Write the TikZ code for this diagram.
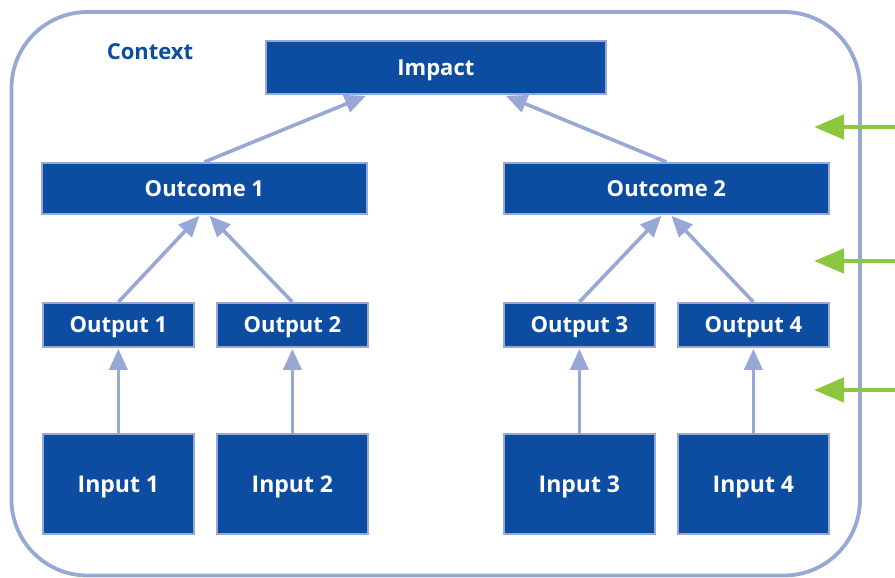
\documentclass[tikz,border=0pt]{standalone}
\usepackage{fontspec}
\setmainfont{Open Sans}
\usetikzlibrary{arrows.meta}
\definecolor{boxblue}{HTML}{0D4DA1}
\definecolor{lineblue}{HTML}{97A8D6}
\definecolor{leaf}{HTML}{8DC63F}
\begin{document}
\begin{tikzpicture}[x=1pt,y=-1pt,
  blk/.style={draw=lineblue,line width=1.8pt,fill=boxblue,text=white,font=\bfseries\fontsize{22}{26}\selectfont,inner sep=0pt,text depth=0pt,anchor=north west},
  inblk/.style={blk,minimum width=151pt,minimum height=100pt,font=\bfseries\fontsize{23}{27}\selectfont},
  conn/.style={draw=lineblue,line width=3.6pt,-{Triangle[length=21pt,width=18pt]}},
  garrow/.style={draw=leaf,line width=4.8pt,-{Triangle[length=30pt,width=24pt]}}]
\useasboundingbox (0,0) rectangle (895,578);
\draw[lineblue,line width=3.8pt,rounded corners=76pt] (11.5,12) rectangle (860,575.5);
\node[text=boxblue,font=\bfseries\fontsize{22}{26}\selectfont] (ctx) at (150,52) {Context};
\node[blk,minimum width=340pt,minimum height=53pt] (imp) at (265,40) {Impact};
\node[blk,minimum width=325pt,minimum height=51pt] (oc1) at (41,162) {Outcome 1};
\node[blk,minimum width=325pt,minimum height=51pt] (oc2) at (503,162) {Outcome 2};
\node[blk,minimum width=151pt,minimum height=44pt] (op1) at (42,302) {Output 1};
\node[blk,minimum width=151pt,minimum height=44pt] (op2) at (216,302) {Output 2};
\node[blk,minimum width=151pt,minimum height=44pt] (op3) at (503,302) {Output 3};
\node[blk,minimum width=151pt,minimum height=44pt] (op4) at (677,302) {Output 4};
\node[inblk] (in1) at (42,433) {Input 1};
\node[inblk] (in2) at (216,433) {Input 2};
\node[inblk] (in3) at (503,433) {Input 3};
\node[inblk] (in4) at (677,433) {Input 4};
\draw[conn] (oc1.north) -- ([xshift=-70pt,yshift=-1pt]imp.south);
\draw[conn] (oc2.north) -- ([xshift=70pt,yshift=-1pt]imp.south);
\draw[conn] (op1.north) -- ([xshift=-5pt,yshift=-1pt]oc1.south);
\draw[conn] (op2.north) -- ([xshift=5pt,yshift=-1pt]oc1.south);
\draw[conn] (op3.north) -- ([xshift=-5pt,yshift=-1pt]oc2.south);
\draw[conn] (op4.north) -- ([xshift=5pt,yshift=-1pt]oc2.south);
\draw[conn] (in1.north) -- ([yshift=-1pt]op1.south);
\draw[conn] (in2.north) -- ([yshift=-1pt]op2.south);
\draw[conn] (in3.north) -- ([yshift=-1pt]op3.south);
\draw[conn] (in4.north) -- ([yshift=-1pt]op4.south);
\coordinate (g1s) at (896,127); \coordinate (g1e) at (814,127);
\coordinate (g2s) at (896,261); \coordinate (g2e) at (814,261);
\coordinate (g3s) at (896,390); \coordinate (g3e) at (814,390);
\draw[garrow] (g1s) -- (g1e);
\draw[garrow] (g2s) -- (g2e);
\draw[garrow] (g3s) -- (g3e);
\end{tikzpicture}
\end{document}
